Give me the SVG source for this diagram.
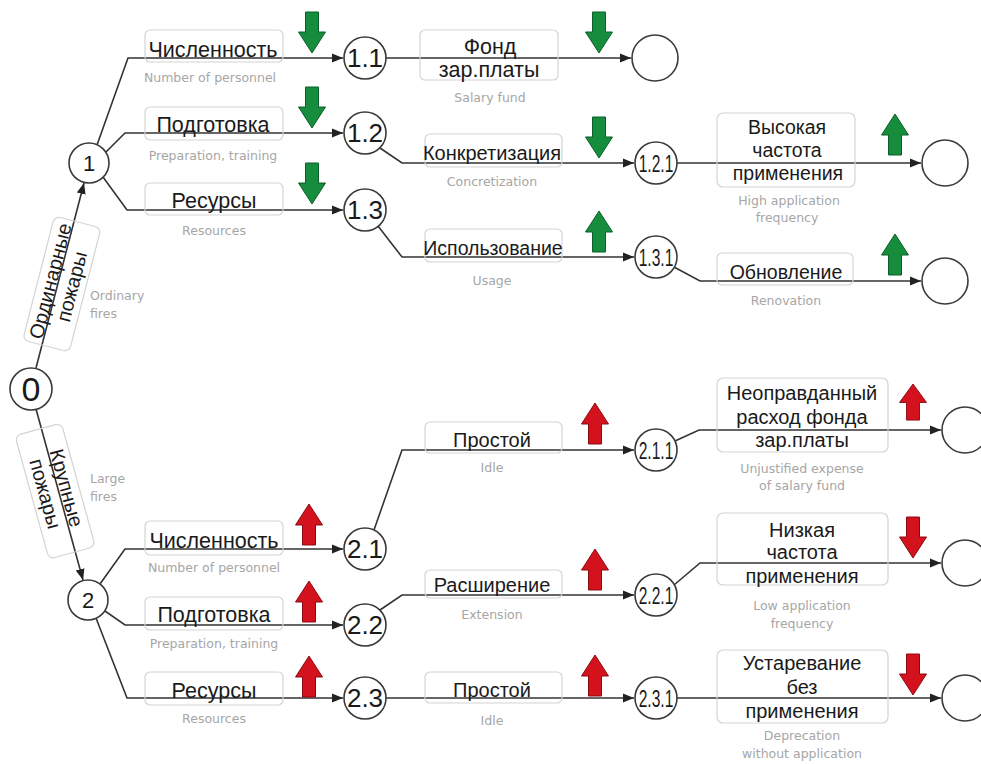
<svg xmlns="http://www.w3.org/2000/svg" xmlns:xlink="http://www.w3.org/1999/xlink" width="981" height="764" viewBox="0 0 981 764">
<style>
.bg{fill:#ffffff}
.node{fill:#ffffff;stroke:#3a3a3a;stroke-width:1.6}
.nt{font-family:"Liberation Sans",Arial,sans-serif;fill:#1a1a1a;text-anchor:middle}
.box{fill:none;stroke:#d4d4d4;stroke-width:1.2}
.lbl{font-family:"Liberation Sans",Arial,sans-serif;font-size:20px;fill:#1a1a1a;text-anchor:middle}
.big{font-size:21.5px}
.sm{font-size:19.5px}
.sub{font-family:"DejaVu Sans",Verdana,sans-serif;font-size:12.5px;fill:#a6a6a6;text-anchor:middle}
.subl{font-family:"DejaVu Sans",Verdana,sans-serif;font-size:12.5px;fill:#a6a6a6}
.con{fill:none;stroke:#333333;stroke-width:1.6}
.g{fill:#168c3d;stroke:#0b5f28;stroke-width:1}
.r{fill:#d3121d;stroke:#8c0b10;stroke-width:1}
</style>
<defs>
<marker id="ah" markerUnits="userSpaceOnUse" markerWidth="12" markerHeight="10" refX="11" refY="5" orient="auto">
<path d="M0,0.5 L11,5 L0,9.5 Z" fill="#222222"/>
</marker>
<path id="dn" d="M-6.5,0 H6.5 V20 H13.5 L0,41 L-13.5,20 H-6.5 Z"/>
<path id="up" d="M0,0 L13.5,21 H6.5 V41 H-6.5 V21 H-13.5 Z"/>
</defs>
<rect class="bg" x="0" y="0" width="981" height="764"/>

<g id="connectors">
<path class="con" d="M36,368 L84,183" marker-end="url(#ah)"/>
<path class="con" d="M36,409 L83,580" marker-end="url(#ah)"/>
<path class="con" d="M97,145 L128,58 L343,58" marker-end="url(#ah)"/>
<path class="con" d="M106,152 L125,133 L343,133" marker-end="url(#ah)"/>
<path class="con" d="M103,177 L127,210 L343,210" marker-end="url(#ah)"/>
<path class="con" d="M386,58 L631,58" marker-end="url(#ah)"/>
<path class="con" d="M380,148 L402,163 L634,163" marker-end="url(#ah)"/>
<path class="con" d="M378,226 L402,257 L634,257" marker-end="url(#ah)"/>
<path class="con" d="M677,163 L921,163" marker-end="url(#ah)"/>
<path class="con" d="M674,267 L700,281 L921,281" marker-end="url(#ah)"/>
<path class="con" d="M100,584 L125,549 L343,549" marker-end="url(#ah)"/>
<path class="con" d="M105,611 L125,625 L343,625" marker-end="url(#ah)"/>
<path class="con" d="M96,618 L127,698 L343,698" marker-end="url(#ah)"/>
<path class="con" d="M374,530 L402,450 L634,450" marker-end="url(#ah)"/>
<path class="con" d="M380,610 L402,595 L634,595" marker-end="url(#ah)"/>
<path class="con" d="M386,698 L634,698" marker-end="url(#ah)"/>
<path class="con" d="M675,441 L699,430 L941,430" marker-end="url(#ah)"/>
<path class="con" d="M674,585 L700,563 L941,563" marker-end="url(#ah)"/>
<path class="con" d="M677,698 L941,698" marker-end="url(#ah)"/>
</g>

<g id="edge-labels">
<g id="lbl-ordinary" transform="translate(58,283) rotate(-75.6)">
<rect class="box" x="-64" y="-20" width="128" height="48" rx="6"/>
<text class="lbl" x="0" y="-1" font-size="21">Ординарные</text>
<text class="lbl" x="0" y="21" font-size="21">пожары</text>
</g>
<text class="subl" x="90" y="300">Ordinary</text>
<text class="subl" x="90" y="318">fires</text>
<g id="lbl-large" transform="translate(59,490) rotate(74.6)">
<rect class="box" x="-64" y="-20" width="128" height="48" rx="6"/>
<text class="lbl" x="0" y="-1" font-size="21">Крупные</text>
<text class="lbl" x="0" y="21" font-size="21">пожары</text>
</g>
<text class="subl" x="90" y="483">Large</text>
<text class="subl" x="90" y="501">fires</text>

<g id="lbl-a1">
<rect class="box" x="145" y="30" width="138" height="32" rx="5"/>
<text class="lbl big" x="213" y="57">Численность</text>
<text class="sub" x="210" y="82">Number of personnel</text>
</g>
<g id="lbl-a2">
<rect class="box" x="145" y="107" width="138" height="33" rx="5"/>
<text class="lbl big" x="213" y="132">Подготовка</text>
<text class="sub" x="213" y="160">Preparation, training</text>
</g>
<g id="lbl-a3">
<rect class="box" x="145" y="183" width="138" height="32" rx="5"/>
<text class="lbl big" x="214" y="208">Ресурсы</text>
<text class="sub" x="214" y="235">Resources</text>
</g>
<g id="lbl-b1">
<rect class="box" x="420" y="30" width="138" height="50" rx="5"/>
<text class="lbl big" x="490" y="54">Фонд</text>
<text class="lbl big" x="489" y="77">зар.платы</text>
<text class="sub" x="490" y="102">Salary fund</text>
</g>
<g id="lbl-b2">
<rect class="box" x="425" y="134" width="137" height="33" rx="5"/>
<text class="lbl" x="492" y="160">Конкретизация</text>
<text class="sub" x="492" y="186">Concretization</text>
</g>
<g id="lbl-b3">
<rect class="box" x="425" y="229" width="137" height="33" rx="5"/>
<text class="lbl sm" x="493" y="255">Использование</text>
<text class="sub" x="492" y="285">Usage</text>
</g>
<g id="lbl-c1">
<rect class="box" x="717" y="113" width="138" height="74" rx="6"/>
<text class="lbl sm" x="787" y="134">Высокая</text>
<text class="lbl sm" x="787" y="157">частота</text>
<text class="lbl sm" x="788" y="180">применения</text>
<text class="sub" x="789" y="205">High application</text>
<text class="sub" x="787" y="222">frequency</text>
</g>
<g id="lbl-c2">
<rect class="box" x="717" y="253" width="136" height="32" rx="5"/>
<text class="lbl sm" x="786" y="279">Обновление</text>
<text class="sub" x="786" y="305">Renovation</text>
</g>

<g id="lbl-d1">
<rect class="box" x="145" y="521" width="138" height="34" rx="5"/>
<text class="lbl big" x="214" y="548">Численность</text>
<text class="sub" x="214" y="572">Number of personnel</text>
</g>
<g id="lbl-d2">
<rect class="box" x="145" y="597" width="138" height="33" rx="5"/>
<text class="lbl big" x="214" y="622">Подготовка</text>
<text class="sub" x="214" y="648">Preparation, training</text>
</g>
<g id="lbl-d3">
<rect class="box" x="145" y="672" width="138" height="33" rx="5"/>
<text class="lbl big" x="214" y="698">Ресурсы</text>
<text class="sub" x="214" y="723">Resources</text>
</g>
<g id="lbl-e1">
<rect class="box" x="425" y="422" width="137" height="31" rx="5"/>
<text class="lbl" x="492" y="447">Простой</text>
<text class="sub" x="492" y="472">Idle</text>
</g>
<g id="lbl-e2">
<rect class="box" x="425" y="570" width="137" height="28" rx="5"/>
<text class="lbl" x="492" y="592">Расширение</text>
<text class="sub" x="492" y="619">Extension</text>
</g>
<g id="lbl-e3">
<rect class="box" x="425" y="672" width="137" height="31" rx="5"/>
<text class="lbl" x="492" y="697">Простой</text>
<text class="sub" x="492" y="725">Idle</text>
</g>
<g id="lbl-f1">
<rect class="box" x="717" y="378" width="171" height="74" rx="6"/>
<text class="lbl" x="802" y="400">Неоправданный</text>
<text class="lbl" x="802" y="424">расход фонда</text>
<text class="lbl" x="802" y="447">зар.платы</text>
<text class="sub" x="802" y="473">Unjustified expense</text>
<text class="sub" x="802" y="490">of salary fund</text>
</g>
<g id="lbl-f2">
<rect class="box" x="717" y="513" width="171" height="72" rx="6"/>
<text class="lbl" x="802" y="537">Низкая</text>
<text class="lbl" x="802" y="559">частота</text>
<text class="lbl" x="802" y="583">применения</text>
<text class="sub" x="802" y="610">Low application</text>
<text class="sub" x="802" y="628">frequency</text>
</g>
<g id="lbl-f3">
<rect class="box" x="717" y="650" width="171" height="73" rx="6"/>
<text class="lbl" x="802" y="670">Устаревание</text>
<text class="lbl" x="802" y="694">без</text>
<text class="lbl" x="802" y="718">применения</text>
<text class="sub" x="802" y="740">Deprecation</text>
<text class="sub" x="802" y="758">without application</text>
</g>
</g>

<g id="trend-arrows">
<use href="#dn" class="g" x="312" y="12"/>
<use href="#dn" class="g" x="312" y="87"/>
<use href="#dn" class="g" x="312" y="163"/>
<use href="#dn" class="g" x="599" y="12"/>
<use href="#dn" class="g" x="599" y="117"/>
<use href="#up" class="g" x="599" y="211"/>
<use href="#up" class="g" x="895" y="114"/>
<use href="#up" class="g" x="895" y="234"/>
<use href="#up" class="r" x="309" y="504"/>
<use href="#up" class="r" x="309" y="581"/>
<use href="#up" class="r" x="309" y="656"/>
<use href="#up" class="r" x="595" y="403"/>
<use href="#up" class="r" x="595" y="549"/>
<use href="#up" class="r" x="595" y="655"/>
<g transform="translate(913,384) scale(1,0.88)"><use href="#up" class="r"/></g>
<use href="#dn" class="r" x="913" y="517"/>
<use href="#dn" class="r" x="913" y="654"/>
</g>

<g id="node-0"><circle class="node" cx="31" cy="389" r="21"/><text class="nt" x="31" y="401" font-size="34">0</text></g>
<g id="node-1"><circle class="node" cx="89" cy="163" r="20"/><text class="nt" x="89" y="171" font-size="22">1</text></g>
<g id="node-2"><circle class="node" cx="88" cy="600" r="20"/><text class="nt" x="88" y="608" font-size="22">2</text></g>
<g id="node-1-1"><circle class="node" cx="365" cy="58" r="21"/><text class="nt" x="365" y="67" font-size="26">1.1</text></g>
<g id="node-1-2"><circle class="node" cx="365" cy="133" r="21"/><text class="nt" x="365" y="142" font-size="26">1.2</text></g>
<g id="node-1-3"><circle class="node" cx="365" cy="210" r="21"/><text class="nt" x="365" y="219" font-size="26">1.3</text></g>
<g id="node-2-1"><circle class="node" cx="365" cy="549" r="21"/><text class="nt" x="365" y="558" font-size="26">2.1</text></g>
<g id="node-2-2"><circle class="node" cx="365" cy="625" r="21"/><text class="nt" x="365" y="634" font-size="26">2.2</text></g>
<g id="node-2-3"><circle class="node" cx="365" cy="698" r="21"/><text class="nt" x="365" y="707" font-size="26">2.3</text></g>
<g id="node-1-2-1"><circle class="node" cx="656" cy="163" r="21"/><text class="nt" transform="translate(656,172) scale(0.65,1)" font-size="24">1.2.1</text></g>
<g id="node-1-3-1"><circle class="node" cx="656" cy="257" r="21"/><text class="nt" transform="translate(656,266) scale(0.65,1)" font-size="24">1.3.1</text></g>
<g id="node-2-1-1"><circle class="node" cx="656" cy="450" r="21"/><text class="nt" transform="translate(656,459) scale(0.65,1)" font-size="24">2.1.1</text></g>
<g id="node-2-2-1"><circle class="node" cx="656" cy="595" r="21"/><text class="nt" transform="translate(656,604) scale(0.65,1)" font-size="24">2.2.1</text></g>
<g id="node-2-3-1"><circle class="node" cx="656" cy="698" r="21"/><text class="nt" transform="translate(656,707) scale(0.65,1)" font-size="24">2.3.1</text></g>
<g id="node-end-1-1"><circle class="node" cx="655" cy="58" r="23"/></g>
<g id="node-end-1-2-1"><circle class="node" cx="945" cy="163" r="23"/></g>
<g id="node-end-1-3-1"><circle class="node" cx="945" cy="281" r="23"/></g>
<g id="node-end-2-1-1"><circle class="node" cx="965" cy="430" r="23"/></g>
<g id="node-end-2-2-1"><circle class="node" cx="965" cy="563" r="23"/></g>
<g id="node-end-2-3-1"><circle class="node" cx="965" cy="698" r="23"/></g>
</svg>
